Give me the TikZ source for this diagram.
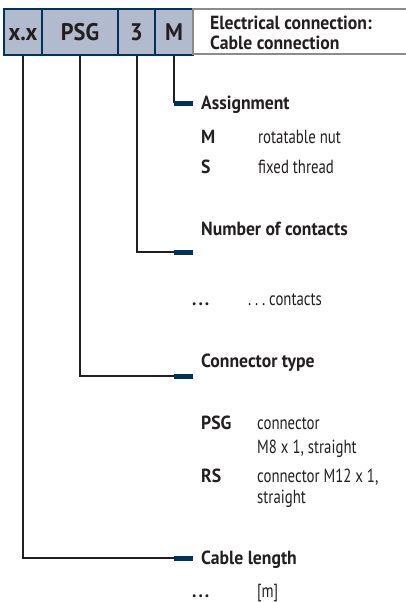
\documentclass[tikz,border=0pt]{standalone}
\usepackage{fontspec}
\setmainfont{PT Sans}[FakeStretch=0.78,BoldFeatures={FakeStretch=0.93}]
\definecolor{boxfill}{RGB}{178,187,206}
\definecolor{navy}{RGB}{0,50,92}
\definecolor{ink}{RGB}{35,31,32}
\definecolor{framegray}{RGB}{140,140,140}
\newcommand\widedots{\makebox[17pt][s]{.\hfill.\hfill.}}
\tikzset{
  codebox/.style={draw=navy,line width=2pt,fill=boxfill,minimum height=46pt,inner sep=0pt,
    text height=17pt,text depth=0pt,text=ink,font=\bfseries\fontsize{24}{24}\selectfont},
  lead/.style={draw=ink,line width=2pt},
  tick/.style={draw=navy,line width=5pt},
  head/.style={anchor=base west,inner sep=0pt,text=ink,font=\bfseries\fontsize{19}{20}\selectfont},
  desc/.style={anchor=base west,inner sep=0pt,text=ink,font=\fontsize{19}{20}\selectfont},
}
\begin{document}
\begin{tikzpicture}[x=1pt,y=-1pt]
\useasboundingbox (0,0) rectangle (406,602);
% type code
\node[codebox,minimum width=38pt] (bxx) at (23,32) {x.x};
\node[codebox,minimum width=76pt] (bpsg) at (80,32) {PSG};
\node[codebox,minimum width=37pt] (bthree) at (136.5,32) {3};
\node[codebox,minimum width=38pt] (bm) at (174,32) {M};
\draw[framegray,line width=1.5pt] (406,9) -- (193,9) -- (193,54) -- (406,54);
\node[head] (title1) at (210,30) {Electrical connection:};
\node[head] (title2) at (210,49) {Cable connection};
% leads
\coordinate (tass) at (174,103);
\coordinate (tnum) at (174,252);
\coordinate (tcon) at (174,376);
\coordinate (tlen) at (174,558);
\draw[lead] (bm.south) -- (tass);
\draw[lead] (bthree.south) |- (tnum);
\draw[lead] (bpsg.south) |- (tcon);
\draw[lead] (bxx.south) |- (tlen);
\foreach \t in {tass,tnum,tcon,tlen}
  \draw[tick] (\t) -- ++(19,0);
% assignment
\node[head] (hass) at (201,109) {Assignment};
\node[head] (km) at (201,143) {M};
\node[desc] (dm) at (258,143) {rotatable nut};
\node[head] (ks) at (201,173) {S};
\node[desc] (ds) at (258,173) {fixed thread};
% contacts
\node[head] (hnum) at (201,235) {Number of contacts};
\node[head] (kdots1) at (192,305) {\widedots};
\node[desc] (ddots1) at (248,305) {\widedots\ contacts};
% connector type
\node[head] (hcon) at (201,367) {Connector type};
\node[head] (kpsg) at (201,429) {PSG};
\node[desc] (dpsg1) at (257,429) {connector};
\node[desc] (dpsg2) at (257,453) {M8 x 1, straight};
\node[head] (krs) at (201,482) {RS};
\node[desc] (drs1) at (257,482) {connector M12 x 1,};
\node[desc] (drs2) at (257,503) {straight};
% cable length
\node[head] (hlen) at (201,564) {Cable length};
\node[head] (kdots2) at (192,597) {\widedots};
\node[desc] (dlen) at (257,597) {[m]};
\end{tikzpicture}
\end{document}
